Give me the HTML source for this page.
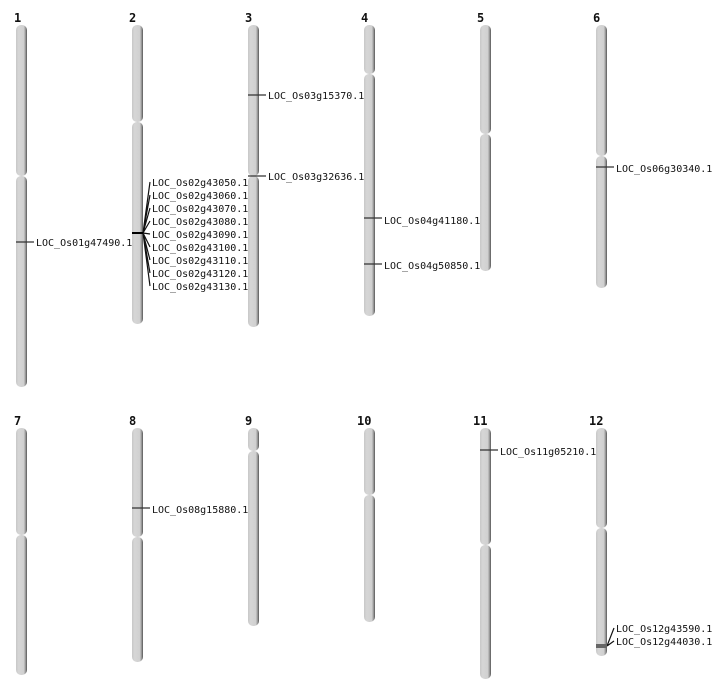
<!DOCTYPE html>
<html><head><meta charset="utf-8"><style>
html,body{margin:0;padding:0;background:#fff;width:712px;height:700px;overflow:hidden}
text{font-family:"DejaVu Sans Mono","Liberation Mono",monospace;font-size:10px;fill:#111}
.n{font-family:"DejaVu Sans Mono","Liberation Mono",monospace;font-weight:bold;font-size:12px}
</style></head><body>
<svg width="712" height="700" xmlns="http://www.w3.org/2000/svg">
<defs>
<linearGradient id="g" x1="0" x2="1" y1="0" y2="0">
<stop offset="0" stop-color="#c8c8c8"/><stop offset="0.25" stop-color="#d6d6d6"/>
<stop offset="0.7" stop-color="#d0d0d0"/><stop offset="0.85" stop-color="#a0a0a0"/><stop offset="1" stop-color="#555"/>
</linearGradient>
</defs>
<g fill="url(#g)">
<!-- row 1 -->
<rect x="16" y="25" width="11" height="151" rx="5"/><rect x="16" y="176" width="11" height="211" rx="5"/>
<rect x="132" y="25" width="11" height="97" rx="5"/><rect x="132" y="122" width="11" height="202" rx="5"/>
<rect x="248" y="25" width="11" height="151" rx="5"/><rect x="248" y="176" width="11" height="151" rx="5"/>
<rect x="364" y="25" width="11" height="49" rx="5"/><rect x="364" y="74" width="11" height="242" rx="5"/>
<rect x="480" y="25" width="11" height="109" rx="5"/><rect x="480" y="134" width="11" height="137" rx="5"/>
<rect x="596" y="25" width="11" height="131" rx="5"/><rect x="596" y="156" width="11" height="132" rx="5"/>
<!-- row 2 -->
<rect x="16" y="428" width="11" height="107" rx="5"/><rect x="16" y="535" width="11" height="140" rx="5"/>
<rect x="132" y="428" width="11" height="109" rx="5"/><rect x="132" y="537" width="11" height="125" rx="5"/>
<rect x="248" y="428" width="11" height="23" rx="5"/><rect x="248" y="451" width="11" height="175" rx="5"/>
<rect x="364" y="428" width="11" height="67" rx="5"/><rect x="364" y="495" width="11" height="127" rx="5"/>
<rect x="480" y="428" width="11" height="117" rx="5"/><rect x="480" y="545" width="11" height="134" rx="5"/>
<rect x="596" y="428" width="11" height="100" rx="5"/><rect x="596" y="528" width="11" height="128" rx="5"/>
</g>
<text class="n" x="14" y="22">1</text><text class="n" x="129" y="22">2</text><text class="n" x="245" y="22">3</text>
<text class="n" x="361" y="22">4</text><text class="n" x="477" y="22">5</text><text class="n" x="593" y="22">6</text>
<text class="n" x="14" y="425">7</text><text class="n" x="129" y="425">8</text><text class="n" x="245" y="425">9</text>
<text class="n" x="357" y="425">10</text><text class="n" x="473" y="425">11</text><text class="n" x="589" y="425">12</text>
<g stroke="#333" stroke-width="1.2" fill="none">
<line x1="16" y1="242" x2="34" y2="242"/>
<line x1="248" y1="95" x2="266" y2="95"/>
<line x1="248" y1="176" x2="266" y2="176"/>
<line x1="364" y1="218" x2="382" y2="218"/>
<line x1="364" y1="264" x2="382" y2="264"/>
<line x1="596" y1="167" x2="614" y2="167"/>
<line x1="132" y1="508" x2="150" y2="508"/>
<line x1="480" y1="450" x2="498" y2="450"/>
<path d="M143 233L150 182M143 233L150 195M143 233L150 208M143 233L150 221M143 233L150 234M143 233L150 247M143 233L150 260M143 233L150 273M143 233L150 286" stroke="#111"/>
<path d="M607 646L614 628M607 646L614 641" stroke="#111"/>
</g>
<rect x="132" y="232" width="11" height="2" fill="#000"/>
<rect x="596" y="644" width="11" height="4" fill="#666"/>
<text x="36" y="246">LOC_Os01g47490.1</text>
<text x="152" y="186">LOC_Os02g43050.1</text>
<text x="152" y="199">LOC_Os02g43060.1</text>
<text x="152" y="212">LOC_Os02g43070.1</text>
<text x="152" y="225">LOC_Os02g43080.1</text>
<text x="152" y="238">LOC_Os02g43090.1</text>
<text x="152" y="251">LOC_Os02g43100.1</text>
<text x="152" y="264">LOC_Os02g43110.1</text>
<text x="152" y="277">LOC_Os02g43120.1</text>
<text x="152" y="290">LOC_Os02g43130.1</text>
<text x="268" y="99">LOC_Os03g15370.1</text>
<text x="268" y="180">LOC_Os03g32636.1</text>
<text x="384" y="224">LOC_Os04g41180.1</text>
<text x="384" y="269">LOC_Os04g50850.1</text>
<text x="616" y="172">LOC_Os06g30340.1</text>
<text x="152" y="513">LOC_Os08g15880.1</text>
<text x="500" y="455">LOC_Os11g05210.1</text>
<text x="616" y="632">LOC_Os12g43590.1</text>
<text x="616" y="645">LOC_Os12g44030.1</text>
</svg>
</body></html>
